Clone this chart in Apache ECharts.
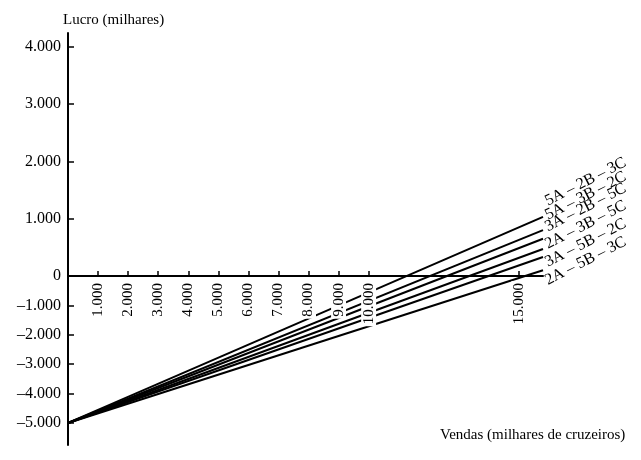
<!DOCTYPE html>
<html>
<head>
<meta charset="utf-8">
<script src="https://cdn.jsdelivr.net/npm/echarts@6/dist/echarts.min.js"></script>
<style>
  html, body { margin: 0; padding: 0; background: #fff; }
  #chart { width: 641px; height: 460px; }
</style>
</head>
<body>
<div id="chart"></div>
<script>
// dados
const COMBINACOES = ['5A – 2B – 3C', '5A – 3B – 2C', '3A – 2B – 5C', '2A – 3B – 5C', '3A – 5B – 2C', '2A – 5B – 3C'];
const VENDAS_INICIO = 0;
const VENDAS_FIM = 15800;
const LUCRO_INICIO = -5000;
const LUCRO_FIM = [1030, 800, 650, 470, 330, 100];
const X_TICKS = [1000, 2000, 3000, 4000, 5000, 6000, 7000, 8000, 9000, 10000, 15000];
const Y_TICKS = [-5000, -4000, -3000, -2000, -1000, 0, 1000, 2000, 3000, 4000];

// deslocamento vertical (px na tela) dos rótulos das retas
const LABEL_DY = [-15, -14, -11, -4, 6, 11];
const LABEL_ROT = 27;

// o eixo do lucro tem escala maior na parte positiva
const POS_SCALE = 1.95;
const toAxis = v => (v > 0 ? v * POS_SCALE : v);
const fromAxis = v => (v > 0 ? v / POS_SCALE : v);

const fmt = v => {
  const r = Math.round(v);
  const s = String(Math.abs(r)).replace(/\B(?=(\d{3})+(?!\d))/g, '.');
  return r < 0 ? '–' + s : s;
};

const serif = 'Liberation Serif';

// grade e limites do eixo y (em unidades do eixo)
const GRID = { left: 68, right: 98, top: 33, bottom: 15 };
const Y_MIN = -5750, Y_MAX = 8265;
const gridH = 460 - GRID.top - GRID.bottom;
// sobe o eixo x até o zero
const xOffset = -(0 - Y_MIN) / (Y_MAX - Y_MIN) * gridH;

// o offset do rótulo é aplicado no sistema girado: converte p/ deslocamento vertical puro
const rad = LABEL_ROT * Math.PI / 180;
const labelOffset = dy => [-Math.sin(rad) * dy, Math.cos(rad) * dy];

const series = COMBINACOES.map((nome, i) => ({
  name: nome,
  type: 'line',
  symbol: 'none',
  z: 2,
  lineStyle: { color: '#000', width: 2 },
  endLabel: {
    show: true,
    distance: 3,
    offset: labelOffset(LABEL_DY[i]),
    rotate: LABEL_ROT,
    align: 'left',
    verticalAlign: 'middle',
    formatter: nome,
    fontFamily: serif,
    fontSize: 16,
    color: '#000'
  },
  data: [
    [VENDAS_INICIO, toAxis(LUCRO_INICIO)],
    [VENDAS_FIM, toAxis(LUCRO_FIM[i])]
  ]
}));

const chart = echarts.init(document.getElementById('chart'));
chart.setOption({
  animation: false,
  backgroundColor: '#fff',
  title: {
    text: 'Vendas (milhares de cruzeiros)',
    left: 440,
    top: 428,
    padding: 0,
    textStyle: { fontFamily: serif, fontSize: 15, fontWeight: 'normal', color: '#000' }
  },
  grid: Object.assign({ outerBoundsMode: 'none' }, GRID),
  xAxis: {
    type: 'value',
    min: 0,
    max: VENDAS_FIM,
    z: 5,
    offset: xOffset,
    axisLine: { onZero: false, lineStyle: { color: '#000', width: 2 } },
    axisTick: { inside: true, length: 5, customValues: X_TICKS, lineStyle: { color: '#000', width: 1.5 } },
    axisLabel: {
      customValues: X_TICKS,
      rotate: 90,
      margin: 5,
      formatter: v => fmt(v),
      fontFamily: serif,
      fontSize: 15,
      color: '#000',
      backgroundColor: '#fff',
      padding: [0, 2, 0, 2]
    },
    splitLine: { show: false }
  },
  yAxis: {
    type: 'value',
    min: Y_MIN,
    max: Y_MAX,
    name: 'Lucro (milhares)',
    nameLocation: 'end',
    nameGap: 5,
    nameTextStyle: { fontFamily: serif, fontSize: 15, color: '#000', align: 'left', padding: [0, 0, 0, -5] },
    axisLine: { show: true, lineStyle: { color: '#000', width: 2 } },
    axisTick: { inside: true, length: 6, customValues: Y_TICKS.map(toAxis), lineStyle: { color: '#000', width: 1.5 } },
    axisLabel: {
      customValues: Y_TICKS.map(toAxis),
      margin: 7,
      formatter: v => fmt(fromAxis(v)),
      fontFamily: serif,
      fontSize: 16,
      color: '#000'
    },
    splitLine: { show: false }
  },
  series: series
});
</script>
</body>
</html>
